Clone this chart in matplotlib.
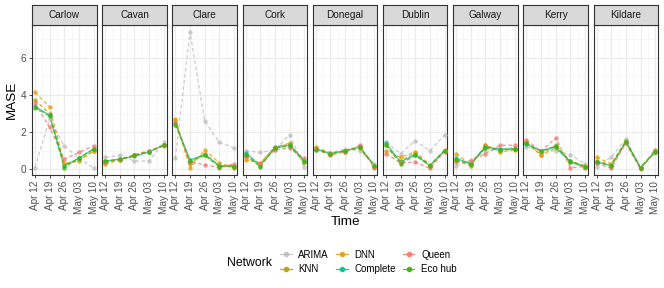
import matplotlib
matplotlib.use("Agg")
import matplotlib.pyplot as plt
from matplotlib.lines import Line2D

plt.rcParams["font.family"] = ["Liberation Sans", "DejaVu Sans"]

counties = ["Carlow", "Cavan", "Clare", "Cork", "Donegal", "Dublin", "Galway", "Kerry", "Kildare"]
days = [0, 7, 14, 21, 28]
tick_labels = ["Apr 12", "Apr 19", "Apr 26", "May 03", "May 10"]
networks = ["ARIMA", "KNN", "DNN", "Complete", "Queen", "Eco hub"]

arima = {
    "Carlow": [0.1, 2.7, 1.27, 0.6, 0.07],
    "Cavan": [0.65, 0.75, 0.45, 0.45, 1.45],
    "Clare": [0.6, 7.4, 2.6, 1.45, 1.15],
    "Cork": [1.0, 0.91, 1.05, 1.85, 0.15],
    "Donegal": [1.05, 0.9, 1.1, 1.0, 0.3],
    "Dublin": [1.45, 0.85, 1.55, 1.0, 1.85],
    "Galway": [0.2, 0.5, 1.0, 1.05, 1.2],
    "Kerry": [1.2, 1.0, 1.0, 0.8, 0.3],
    "Kildare": [0.15, 0.65, 1.65, 0.1, 0.9],
}
knn = {
    "Carlow": [3.73, 3.0, 0.25, 0.5, 1.0],
    "Cavan": [0.35, 0.5, 0.75, 0.95, 1.3],
    "Clare": [2.65, 0.3, 0.85, 0.2, 0.15],
    "Cork": [0.8, 0.3, 1.2, 1.4, 0.45],
    "Donegal": [1.15, 0.85, 1.0, 1.15, 0.15],
    "Dublin": [1.3, 0.45, 0.9, 0.2, 1.0],
    "Galway": [0.5, 0.2, 1.3, 1.0, 1.1],
    "Kerry": [1.4, 0.8, 1.3, 0.45, 0.2],
    "Kildare": [0.45, 0.25, 1.55, 0.05, 0.95],
}
dnn = {
    "Carlow": [4.14, 3.37, 0.32, 0.43, 1.0],
    "Cavan": [0.3, 0.5, 0.8, 1.0, 1.25],
    "Clare": [2.7, 0.05, 1.05, 0.35, 0.1],
    "Cork": [0.5, 0.35, 1.2, 1.35, 0.4],
    "Donegal": [1.2, 0.9, 0.95, 1.2, 0.2],
    "Dublin": [1.0, 0.65, 0.95, 0.25, 1.05],
    "Galway": [0.85, 0.25, 1.3, 0.95, 1.05],
    "Kerry": [1.5, 0.75, 1.15, 0.4, 0.1],
    "Kildare": [0.65, 0.3, 1.5, 0.05, 0.95],
}
complete = {
    "Carlow": [3.4, 2.9, 0.2, 0.6, 1.1],
    "Cavan": [0.45, 0.55, 0.7, 0.95, 1.3],
    "Clare": [2.5, 0.5, 0.8, 0.2, 0.2],
    "Cork": [0.9, 0.2, 1.15, 1.3, 0.5],
    "Donegal": [1.1, 0.85, 1.0, 1.2, 0.2],
    "Dublin": [1.4, 0.4, 0.8, 0.2, 1.0],
    "Galway": [0.6, 0.3, 1.2, 1.1, 1.1],
    "Kerry": [1.35, 1.0, 1.2, 0.4, 0.15],
    "Kildare": [0.4, 0.2, 1.5, 0.1, 0.95],
}
queen = {
    "Carlow": [3.55, 2.27, 0.55, 0.91, 1.27],
    "Cavan": [0.4, 0.55, 0.75, 1.0, 1.3],
    "Clare": [2.5, 0.4, 0.25, 0.1, 0.3],
    "Cork": [0.65, 0.3, 1.05, 1.15, 0.6],
    "Donegal": [1.1, 0.75, 0.95, 1.3, 0.1],
    "Dublin": [0.85, 0.35, 0.4, 0.05, 0.95],
    "Galway": [0.4, 0.45, 0.85, 1.3, 1.3],
    "Kerry": [1.6, 0.95, 1.7, 0.1, 0.15],
    "Kildare": [0.35, 0.05, 1.4, 0.0, 1.05],
}
eco_hub = {
    "Carlow": [3.32, 2.87, 0.1, 0.62, 1.1],
    "Cavan": [0.45, 0.55, 0.75, 0.95, 1.3],
    "Clare": [2.4, 0.45, 0.75, 0.15, 0.15],
    "Cork": [0.75, 0.15, 1.15, 1.25, 0.4],
    "Donegal": [1.05, 0.85, 1.0, 1.2, 0.2],
    "Dublin": [1.3, 0.3, 0.75, 0.2, 1.0],
    "Galway": [0.5, 0.3, 1.15, 1.05, 1.1],
    "Kerry": [1.4, 1.0, 1.25, 0.45, 0.15],
    "Kildare": [0.4, 0.2, 1.45, 0.1, 1.0],
}
series = [arima, knn, dnn, complete, queen, eco_hub]
colors = ["#BEBEBE", "#B79F00", "#E69F00", "#00C08B", "#F8766D", "#39B600"]
styles = ["--", "--", "--", "-", "--", "--"]

W, H = 664, 288
fig = plt.figure(figsize=(W / 100, H / 100), dpi=100)

left0, pw, gap = 32, 64.5, 5.7
top, bottom = 25, 175
strip_h = 20
tick_color = "#4D4D4D"

for i, c in enumerate(counties):
    x0 = left0 + i * (pw + gap)
    ax = fig.add_axes([x0 / W, 1 - bottom / H, pw / W, (bottom - top) / H])
    ax.set_facecolor("white")
    for s, col, ls in zip(series, colors, styles):
        if ls == "--":
            ax.plot(days, s[c], color=col, lw=0.9, alpha=0.8, zorder=2, dashes=(3, 2))
        else:
            ax.plot(days, s[c], color=col, lw=0.9, alpha=0.8, zorder=2)
        ax.plot(days, s[c], "o", color=col, ms=3.2, alpha=0.75, mec="none", zorder=3)
    ax.set_xlim(-1.4, 29.4)
    ax.set_ylim(-0.3, 7.76)
    ax.set_xticks(days)
    ax.set_xticks([3.5, 10.5, 17.5, 24.5], minor=True)
    ax.set_yticks([0, 2, 4, 6])
    ax.set_yticks([1, 3, 5, 7], minor=True)
    ax.grid(True, which="major", color="#EBEBEB", lw=0.8)
    ax.grid(True, which="minor", color="#F4F4F4", lw=0.5)
    ax.set_axisbelow(True)
    ax.set_xticklabels(tick_labels, rotation=90, fontsize=7.2, color=tick_color)
    ax.tick_params(which="minor", length=0)
    ax.tick_params(which="major", length=2.5, width=0.6, color="#333333", pad=1.5)
    if i == 0:
        ax.set_yticklabels(["0", "2", "4", "6"], fontsize=7.2, color=tick_color)
    else:
        ax.set_yticklabels([])
        ax.tick_params(axis="y", length=0)
    for sp in ax.spines.values():
        sp.set_color("#333333")
        sp.set_linewidth(0.8)
    sax = fig.add_axes([x0 / W, 1 - top / H, pw / W, strip_h / H])
    sax.set_xticks([]); sax.set_yticks([])
    sax.set_facecolor("#D9D9D9")
    for sp in sax.spines.values():
        sp.set_color("#333333")
        sp.set_linewidth(0.8)
    sax.text(0.5, 0.5, c, ha="center", va="center", fontsize=7.2, color="#1A1A1A",
             transform=sax.transAxes)

fig.text(12 / W, 1 - 100 / H, "MASE", rotation=90, ha="center", va="center", fontsize=9.7)
fig.text(345 / W, 1 - 222 / H, "Time", ha="center", va="center", fontsize=9.7)

handles = [Line2D([0], [0], color=col, ls="-", lw=0.9, marker="o", ms=3, alpha=0.85)
           for col in colors]
fig.text(250 / W, 1 - 263 / H, "Network", ha="center", va="center", fontsize=8.8)
fig.legend(handles, networks, ncol=3, loc="center left",
           bbox_to_anchor=(280 / W, 1 - 262 / H), frameon=False, fontsize=7,
           handlelength=1.2, handletextpad=0.7, columnspacing=0.7, labelspacing=0.45,
           borderpad=0, borderaxespad=0)

fig.savefig("out.png", dpi=100)
